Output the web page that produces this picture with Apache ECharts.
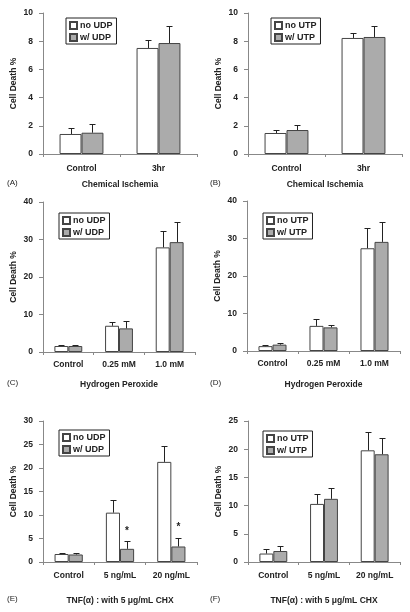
<!DOCTYPE html>
<html><head><meta charset="utf-8">
<script src="https://cdn.jsdelivr.net/npm/echarts@6/dist/echarts.min.js"></script>
<style>html,body{margin:0;padding:0;background:#fff}#c{width:410px;height:612px}</style>
</head><body><div id="c"></div>
<script>
// ---- data ----
const catsA = ['Control', '3hr'];
const noA = [1.42, 7.52];  const sdNoA = [0.45, 0.56];
const wA  = [1.51, 7.87];  const sdWA  = [0.62, 1.23];

const catsB = ['Control', '3hr'];
const noB = [1.49, 8.23];  const sdNoB = [0.19, 0.35];
const wB  = [1.70, 8.30];  const sdWB  = [0.38, 0.80];

const catsC = ['Control', '0.25 mM', '1.0 mM'];
const noC = [1.6, 7.0, 27.9];  const sdNoC = [0.35, 0.9, 4.3];
const wC  = [1.6, 6.3, 29.3];  const sdWC  = [0.35, 2.1, 5.4];

const catsD = ['Control', '0.25 mM', '1.0 mM'];
const noD = [1.3, 6.7, 27.4];  const sdNoD = [0.3, 1.8, 5.5];
const wD  = [1.7, 6.3, 29.1];  const sdWD  = [0.35, 0.7, 5.3];

const catsE = ['Control', '5 ng/mL', '20 ng/mL'];
const noE = [1.7, 10.5, 21.3]; const sdNoE = [0.3, 2.6, 3.4];
const wE  = [1.6, 2.8, 3.3];   const sdWE  = [0.4, 1.6, 1.8];
const starE = [null, 6.6, 7.5];

const catsF = ['Control', '5 ng/mL', '20 ng/mL'];
const noF = [1.5, 10.3, 19.8]; const sdNoF = [0.8, 1.8, 3.2];
const wF  = [1.95, 11.2, 19.1]; const sdWF = [0.85, 2.0, 2.8];

const namesUDP = ['no UDP', 'w/ UDP'];
const namesUTP = ['no UTP', 'w/ UTP'];
const yMax = [10, 10, 40, 40, 30, 25];
const yStep = [2, 2, 10, 10, 5, 5];
const xTitles = ['Chemical Ischemia', 'Chemical Ischemia', 'Hydrogen Peroxide', 'Hydrogen Peroxide',
  'TNF(α) : with 5 μg/mL CHX', 'TNF(α) : with 5 μg/mL CHX'];
const panelTags = ['(A)', '(B)', '(C)', '(D)', '(E)', '(F)'];

const panels = [
  {cats: catsA, no: noA, sdNo: sdNoA, w: wA, sdW: sdWA, names: namesUDP},
  {cats: catsB, no: noB, sdNo: sdNoB, w: wB, sdW: sdWB, names: namesUTP},
  {cats: catsC, no: noC, sdNo: sdNoC, w: wC, sdW: sdWC, names: namesUDP},
  {cats: catsD, no: noD, sdNo: sdNoD, w: wD, sdW: sdWD, names: namesUTP},
  {cats: catsE, no: noE, sdNo: sdNoE, w: wE, sdW: sdWE, names: namesUDP, stars: starE},
  {cats: catsF, no: noF, sdNo: sdNoF, w: wF, sdW: sdWF, names: namesUTP}
];

// ---- layout ----
const grids = [
  {left: 43, top: 13, width: 154, height: 141},
  {left: 248, top: 13, width: 154, height: 141},
  {left: 43, top: 202, width: 152, height: 150},
  {left: 247, top: 201, width: 153, height: 150},
  {left: 43, top: 421, width: 154, height: 141},
  {left: 248, top: 421, width: 152, height: 141}
];
const legendPos = [
  {left: 66, top: 18}, {left: 271, top: 18},
  {left: 59, top: 213}, {left: 263, top: 213},
  {left: 59, top: 430}, {left: 263, top: 431}
];
const xNameGap = [26, 26, 28, 29, 34, 34];
const xLabelMargin = [10, 10, 8, 8, 9, 9];
const tagPos = [
  {x: 7, y: 184}, {x: 210, y: 184},
  {x: 7, y: 384}, {x: 210, y: 384},
  {x: 7, y: 600}, {x: 210, y: 600}
];
const GAPS = [0.43, 0.43, 0.45, 0.45, 0.45, 0.45];
const FONT = '"Liberation Sans", Arial, sans-serif';
const TXT = '#222';
const GRAY = '#ababab';
const EDGE = '#444';

function errRender(side, gap) {
  return function (params, api) {
    const x = api.value(0), v = api.value(1), sd = api.value(2);
    const p0 = api.coord([x, v]);
    const p1 = api.coord([x, v + sd]);
    const band = api.size([1, 0])[0];
    const bw = band * (1 - gap) / 2;
    const cx = Math.round(p0[0] + side * bw / 2) + 0.5;
    const y1 = Math.round(p1[1]) + 0.5;
    return {type: 'group', children: [
      {type: 'line', shape: {x1: cx, y1: p0[1], x2: cx, y2: y1}, style: {stroke: '#222', lineWidth: 1}},
      {type: 'line', shape: {x1: cx - 3, y1: y1, x2: cx + 3, y2: y1}, style: {stroke: '#222', lineWidth: 1}}
    ]};
  };
}
function starRender(gap) {
  return function (params, api) {
    const x = api.value(0), v = api.value(1);
    const p = api.coord([x, v]);
    const band = api.size([1, 0])[0];
    const bw = band * (1 - gap) / 2;
    return {type: 'text', x: p[0] + bw / 2, y: p[1],
      style: {text: '*', fontSize: 10, fontWeight: 'bold', fontFamily: FONT, fill: TXT,
        align: 'center', verticalAlign: 'middle'}};
  };
}

const option = {
  animation: false,
  backgroundColor: '#fff',
  grid: [], xAxis: [], yAxis: [], series: [], legend: [], graphic: []
};

panels.forEach((p, i) => {
  option.grid.push(Object.assign({containLabel: false}, grids[i]));
  option.xAxis.push({
    type: 'category', gridIndex: i, data: p.cats,
    name: xTitles[i], nameLocation: 'middle', nameGap: xNameGap[i],
    nameTextStyle: {fontFamily: FONT, fontWeight: 'bold', fontSize: 8.5, color: TXT},
    axisLine: {lineStyle: {color: '#888', width: 1}},
    axisTick: {show: true, length: 3, lineStyle: {color: '#888'}},
    axisLabel: {fontFamily: FONT, fontWeight: 'bold', fontSize: 8.5, color: TXT, margin: xLabelMargin[i]}
  });
  option.yAxis.push({
    type: 'value', gridIndex: i, min: 0, max: yMax[i], interval: yStep[i],
    name: 'Cell Death %', nameLocation: 'middle', nameGap: 25, nameRotate: 90,
    nameTextStyle: {fontFamily: FONT, fontWeight: 'bold', fontSize: 8.5, color: TXT},
    axisLine: {show: true, lineStyle: {color: '#888', width: 1}},
    axisTick: {show: true, length: 4, lineStyle: {color: '#888'}},
    splitLine: {show: false},
    axisLabel: {fontFamily: FONT, fontWeight: 'bold', fontSize: 8.5, color: TXT, margin: 10}
  });
  const gap = GAPS[i];
  option.series.push({
    type: 'bar', name: p.names[0], xAxisIndex: i, yAxisIndex: i, data: p.no,
    barGap: '0%', barCategoryGap: (gap * 100) + '%',
    itemStyle: {color: '#fff', borderColor: EDGE, borderWidth: 1}
  });
  option.series.push({
    type: 'bar', name: p.names[1], xAxisIndex: i, yAxisIndex: i, data: p.w,
    barGap: '0%', barCategoryGap: (gap * 100) + '%',
    itemStyle: {color: GRAY, borderColor: EDGE, borderWidth: 1}
  });
  option.series.push({
    type: 'custom', xAxisIndex: i, yAxisIndex: i, z: 5,
    renderItem: errRender(-1, gap),
    data: p.no.map((v, k) => [k, v, p.sdNo[k]])
  });
  option.series.push({
    type: 'custom', xAxisIndex: i, yAxisIndex: i, z: 5,
    renderItem: errRender(1, gap),
    data: p.w.map((v, k) => [k, v, p.sdW[k]])
  });
  if (p.stars) {
    option.series.push({
      type: 'custom', xAxisIndex: i, yAxisIndex: i, z: 6,
      renderItem: starRender(gap),
      data: p.stars.map((v, k) => v == null ? null : [k, v]).filter(d => d)
    });
  }
  option.legend.push({
    data: p.names, orient: 'vertical', left: legendPos[i].left, top: legendPos[i].top,
    icon: 'rect', itemWidth: 7, itemHeight: 7, itemGap: 3,
    borderColor: '#222', borderWidth: 1, padding: [3, 4, 2, 3], selectedMode: false,
    textStyle: {fontFamily: FONT, fontWeight: 'bold', fontSize: 9, color: TXT, padding: [0, 0, 0, -2]}
  });
  option.graphic.push({
    type: 'text', left: tagPos[i].x, top: tagPos[i].y - 5,
    style: {text: panelTags[i], fontFamily: FONT, fontSize: 8, fill: TXT}
  });
});

const chart = echarts.init(document.getElementById('c'), null, {renderer: 'canvas'});
chart.setOption(option);
</script>
</body></html>
